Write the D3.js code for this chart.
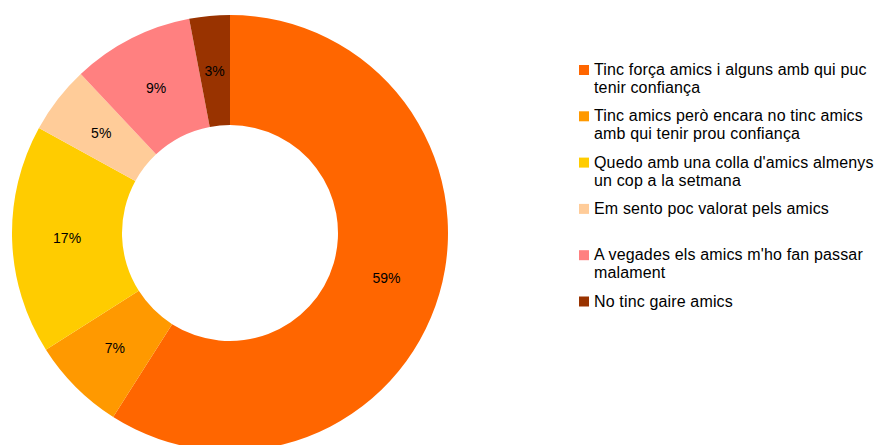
<!DOCTYPE html>
<html>
<head>
<meta charset="utf-8">
<script src="https://cdn.jsdelivr.net/npm/d3@7"></script>
<style>
  body { margin: 0; background: #ffffff; }
  svg { display: block; }
  .slice-label { font-family: "Liberation Sans", Arial, sans-serif; font-size: 14px; fill: #000000; }
  .legend-text { font-family: "Liberation Sans", Arial, sans-serif; font-size: 16px; fill: #000000; letter-spacing: 0.15px; }
</style>
</head>
<body>
<svg id="chart" width="879" height="445"></svg>
<script>
// chart data
const categories = [
    ["Tinc força amics i alguns amb qui puc", "tenir confiança"],
    ["Tinc amics però encara no tinc amics", "amb qui tenir prou confiança"],
    ["Quedo amb una colla d'amics almenys", "un cop a la setmana"],
    ["Em sento poc valorat pels amics"],
    ["A vegades els amics m'ho fan passar", "malament"],
    ["No tinc gaire amics"]
];
const values = [59, 7, 17, 5, 9, 3];
const colors = ["#FF6600", "#FF9900", "#FFCC00", "#FFCC99", "#FF8080", "#993300"];

// layout
const width = 879;
const height = 445;
const cx = 230;
const cy = 233;
const outerR = 218;
const innerR = 108;

const svg = d3.select("#chart");

const data = values.map((v, i) => ({ value: v, label: categories[i], color: colors[i] }));

const pie = d3.pie()
              .sort(null)
              .value(d => d.value);

const arc = d3.arc()
              .innerRadius(innerR)
              .outerRadius(outerR);

const g = svg.append("g")
             .attr("transform", "translate(" + cx + "," + cy + ")");

const arcs = pie(data);

g.selectAll("path")
 .data(arcs)
 .join("path")
 .attr("d", arc)
 .attr("fill", d => d.data.color);

g.selectAll("text")
 .data(arcs)
 .join("text")
 .attr("class", "slice-label")
 .attr("x", d => arc.centroid(d)[0])
 .attr("y", d => arc.centroid(d)[1])
 .attr("text-anchor", "middle")
 .attr("dy", "0.35em")
 .text(d => d.data.value + "%");

// legend
const legendY = d3.scaleLinear()
                  .domain([0, categories.length - 1])
                  .range([70, 301.5]);

const legend = svg.append("g");

const items = legend.selectAll("g")
                    .data(data)
                    .join("g")
                    .attr("transform", (d, i) => "translate(579," + legendY(i) + ")");

items.append("rect")
     .attr("x", 0)
     .attr("y", -5)
     .attr("width", 10)
     .attr("height", 10)
     .attr("fill", d => d.color);

items.each(function(d) {
    const t = d3.select(this).append("text")
                .attr("class", "legend-text")
                .attr("x", 15)
                .attr("y", 5);
    d.label.forEach((line, j) => {
        t.append("tspan")
         .attr("x", 15)
         .attr("dy", j === 0 ? 0 : 18)
         .text(line);
    });
});
</script>
</body>
</html>
